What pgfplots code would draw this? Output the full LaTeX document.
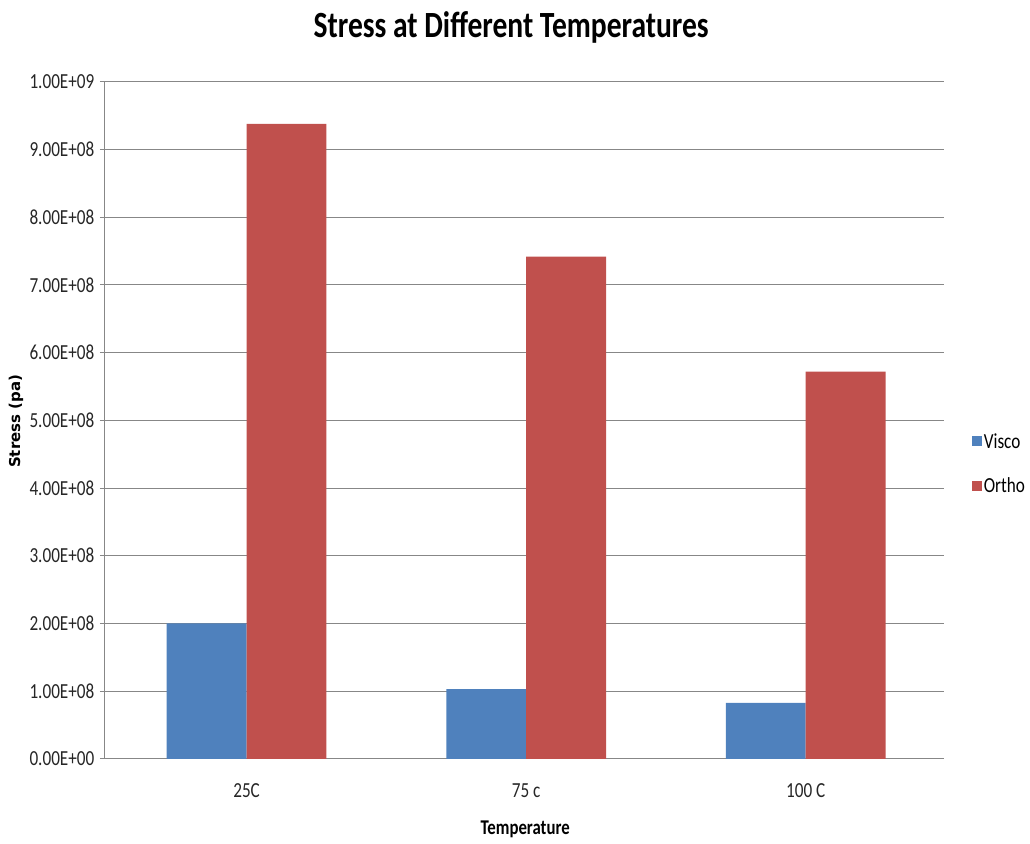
\documentclass[border=0pt]{standalone}
\usepackage{pgfplots}
\pgfplotsset{compat=1.18}
\usepackage{fontspec}
\setmainfont[FakeStretch=0.8]{Carlito}
\newfontfamily\ylabfont{DejaVu Sans}
\definecolor{visco}{HTML}{4F81BD}
\definecolor{ortho}{HTML}{C0504D}
\definecolor{gridc}{HTML}{878787}
\begin{document}
\begin{tikzpicture}[x=1pt,y=1pt]
\path (0,0) rectangle (1030,845);
\begin{axis}[
  at={(105pt,85pt)}, anchor=south west,
  scale only axis, width=840pt, height=678pt,
  xmin=-0.5, xmax=2.5, ymin=0, ymax=1e9,
  scaled y ticks=false,
  axis x line*=bottom, axis y line*=left,
  axis line style={gridc, line width=1pt, -},
  xtick={0,1,2}, xticklabels={25C,75 c,100 C},
  x tick style={draw=none},
  ytick={0,1e8,2e8,3e8,4e8,5e8,6e8,7e8,8e8,9e8,1e9},
  yticklabels={0.00E+00,1.00E+08,2.00E+08,3.00E+08,4.00E+08,5.00E+08,6.00E+08,7.00E+08,8.00E+08,9.00E+08,1.00E+09},
  y tick style={gridc, line width=1pt},
  tick align=outside, major tick length=5pt,
  ymajorgrids, grid style={gridc, line width=1pt},
  ticklabel style={font=\fontsize{21.5}{24}\selectfont, text=black!85},
  xticklabel style={yshift=-16pt, xshift=2pt},
  yticklabel style={xshift=-2pt},
  ybar, bar width=80pt,
  legend style={at={(1.03,0.436)}, anchor=west, draw=none, fill=none,
    font=\fontsize{21.5}{24}\selectfont, row sep=24pt,
    legend cell align=left},
  legend image code/.code={\fill[#1] (0pt,-5pt) rectangle (10pt,5pt);},
]
\addplot[fill=visco, draw=none, bar shift=-38pt] coordinates {(0,2.00e8) (1,1.03e8) (2,0.826e8)};
\addplot[fill=ortho, draw=none, bar shift=42pt] coordinates {(0,9.38e8) (1,7.42e8) (2,5.72e8)};
\legend{Visco,Ortho}
\end{axis}
\node at (512,818) {\fontsize{37}{40}\selectfont\bfseries Stress at Different Temperatures};
\node at (526,14) {\fontsize{21}{24}\selectfont\bfseries Temperature};
\node[rotate=90] at (16,423) {\ylabfont\fontsize{15}{18}\selectfont\bfseries Stress (pa)};
\end{tikzpicture}
\end{document}
